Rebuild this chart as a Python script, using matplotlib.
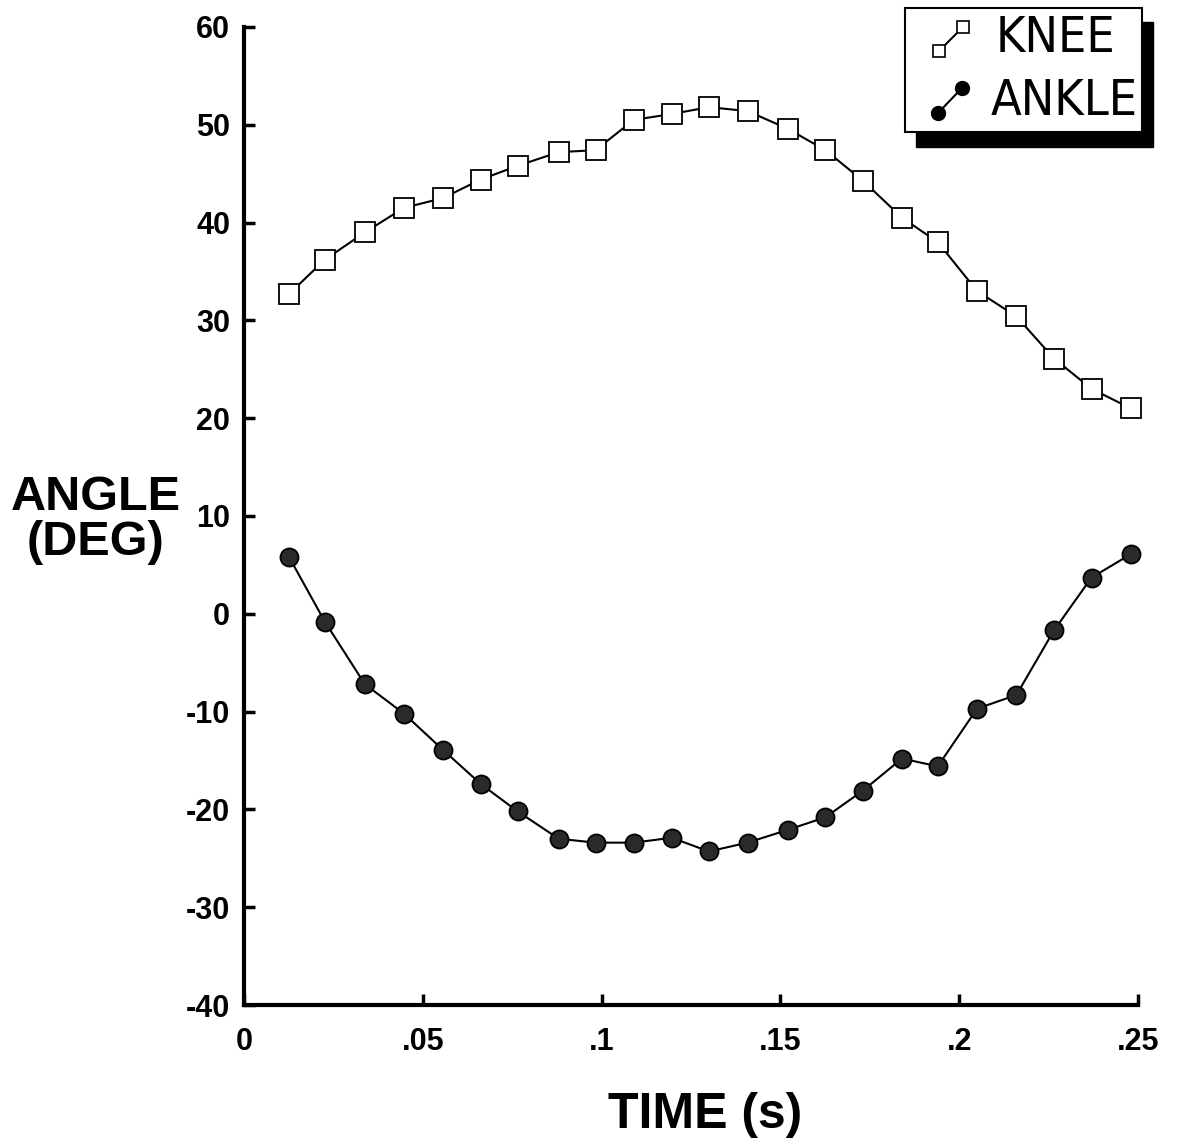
"""Knee and ankle joint angle over time"""

import matplotlib
matplotlib.use('Agg')
import matplotlib.pyplot as plt
from matplotlib.lines import Line2D
from matplotlib.patches import Rectangle

plt.rcParams['font.family'] = ['Liberation Sans', 'DejaVu Sans']
plt.rcParams['axes.unicode_minus'] = False

# time (s) of each frame
time_s = [0.0126, 0.0226, 0.0338, 0.0447, 0.0556, 0.0662, 0.0765, 0.0880,
          0.0983, 0.1090, 0.1196, 0.1300, 0.1408, 0.1520, 0.1626, 0.1730,
          0.1840, 0.1940, 0.2050, 0.2160, 0.2265, 0.2370, 0.2480]

knee_deg = [32.7, 36.2, 39.0, 41.5, 42.5, 44.4, 45.8, 47.2, 47.4, 50.5, 51.1,
            51.8, 51.4, 49.6, 47.4, 44.3, 40.5, 38.0, 33.0, 30.4, 26.1, 23.0, 21.0]

ankle_deg = [5.8, -0.8, -7.2, -10.2, -13.9, -17.4, -20.2, -23.0, -23.4, -23.4,
             -22.9, -24.3, -23.4, -22.1, -20.8, -18.1, -14.8, -15.6, -9.7, -8.3,
             -1.7, 3.7, 6.1]

x_ticks = [0, 0.05, 0.1, 0.15, 0.2, 0.25]
x_tick_labels = ['0', '.05', '.1', '.15', '.2', '.25']
y_ticks = [-40, -30, -20, -10, 0, 10, 20, 30, 40, 50, 60]

fig = plt.figure(figsize=(11.81, 11.47), dpi=100)
ax = fig.add_axes([0.2066, 0.1238, 0.757, 0.8527])

ax.plot(time_s, knee_deg, color='black', lw=1.5, marker='s', ms=14,
        mfc='white', mec='black', mew=1.3, zorder=3, clip_on=False)
ax.plot(time_s, ankle_deg, color='black', lw=1.5, marker='o', ms=13,
        mfc='#2a2a2a', mec='black', mew=1.3, zorder=3, clip_on=False)

ax.set_xlim(0, 0.25)
ax.set_ylim(-40, 60)
ax.set_xticks(x_ticks)
ax.set_xticklabels(x_tick_labels)
ax.set_yticks(y_ticks)
for s in ['top', 'right']:
    ax.spines[s].set_visible(False)
for s in ['left', 'bottom']:
    ax.spines[s].set_linewidth(3)
ax.tick_params(direction='in', length=8, width=2.5, labelsize=22)
ax.tick_params(axis='x', pad=16)
ax.tick_params(axis='y', pad=10)
for lab in ax.get_xticklabels() + ax.get_yticklabels():
    lab.set_fontweight('bold')

fig.text(0.081, 0.547, 'ANGLE\n(DEG)', ha='center', va='center',
         fontsize=35, fontweight='bold', linespacing=1.0)
fig.text(0.597, 0.028, 'TIME (s)', ha='center', va='center',
         fontsize=36, fontweight='bold')

# legend box with drop shadow, drawn in figure pixels
W, H = 1181, 1147
def fx(px):
    return px / W
def fy(py):
    return 1 - py / H

fig.patches.append(Rectangle((fx(916), fy(147)), fx(237), fy(22) - fy(147),
                             transform=fig.transFigure, color='black', zorder=5))
fig.patches.append(Rectangle((fx(905), fy(132)), fx(237), fy(8) - fy(132),
                             transform=fig.transFigure, facecolor='white',
                             edgecolor='black', lw=1.5, zorder=6))
fig.lines.append(Line2D([fx(939), fx(963)], [fy(51), fy(27)], transform=fig.transFigure,
                        color='black', lw=1.5, marker='s', ms=9, mfc='white',
                        mec='black', mew=1.2, zorder=7))
fig.lines.append(Line2D([fx(938), fx(962)], [fy(113), fy(88)], transform=fig.transFigure,
                        color='black', lw=1.5, marker='o', ms=10, mfc='black',
                        mec='black', zorder=7))
leg_font = ['DejaVu Sans', 'Liberation Sans']
fig.text(fx(996), fy(38), 'KNEE', ha='left', va='center', fontsize=36,
         family=leg_font, fontstretch='condensed', fontweight='light', zorder=8)
fig.text(fx(991), fy(101), 'ANKLE', ha='left', va='center', fontsize=36,
         family=leg_font, fontstretch='condensed', fontweight='light', zorder=8)

plt.savefig('out.png', dpi=100)
plt.close()
